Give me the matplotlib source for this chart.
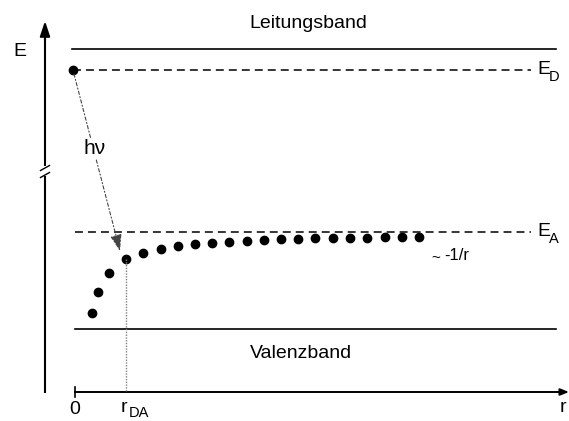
import matplotlib
matplotlib.use("Agg")
import matplotlib.pyplot as plt

plt.rcParams['font.family'] = ['Liberation Sans', 'DejaVu Sans']

# ---- data (drawing units: x = r direction, y = energy, downwards increasing) ----
r_dots = [92, 98, 109, 126, 143, 161, 178, 195, 212, 229, 247, 264, 281,
          298, 315, 333, 350, 367, 385, 402, 419]
E_dots = [313, 292, 273, 259, 253, 249, 246, 244, 243, 242, 241, 240, 239,
          239, 238, 238, 237.5, 237.5, 237, 237, 237]

r_zero = 75
r_DA = 126
r_end = 568
E_cond = 49
E_D = 70
E_A = 232
E_val = 329
donor_r = 73

fig = plt.figure(figsize=(5.69, 4.21), dpi=100)
ax = fig.add_axes([0, 0, 1, 1])
ax.set_xlim(0, 569)
ax.set_ylim(421, 0)
ax.axis('off')

# E axis with break
ax.plot([45, 45], [393, 176], color='black', lw=1.5, solid_capstyle='butt')
ax.plot([45, 45], [166, 30], color='black', lw=1.5, solid_capstyle='butt')
ax.annotate('', xy=(45, 21), xytext=(45, 40),
            arrowprops=dict(arrowstyle='-|>,head_length=0.9,head_width=0.3',
                            color='black', lw=1.5, shrinkA=0, shrinkB=0))
ax.plot([40.5, 49.5], [170.5, 165.5], color='black', lw=1.0)
ax.plot([40.5, 49.5], [177.5, 172.5], color='black', lw=1.0)
ax.text(20, 52, 'E', fontsize=14, ha='center', va='center')

# bands
ax.plot([72, 556], [E_cond, E_cond], color='black', lw=1.2)
ax.plot([75, 556], [E_val, E_val], color='black', lw=1.2)
ax.text(308, 23, 'Leitungsband', fontsize=14, ha='center', va='center')
ax.text(301, 353, 'Valenzband', fontsize=14, ha='center', va='center')

# donor / acceptor levels
ax.plot([donor_r, 531], [E_D, E_D], color='black', lw=1.1,
        linestyle=(0, (5.2, 3.3)))
ax.plot([75, 531], [E_A, E_A], color='black', lw=1.1,
        linestyle=(0, (5.2, 3.3)))
ax.text(537, 70, 'E', fontsize=14, ha='left', va='center')
ax.text(549, 77, 'D', fontsize=10.5, ha='left', va='center')
ax.text(537, 232, 'E', fontsize=14, ha='left', va='center')
ax.text(549, 239, 'A', fontsize=10.5, ha='left', va='center')

ax.plot([donor_r], [E_D], 'o', color='black', ms=6)

# h nu transition
ax.annotate('', xy=(120, 251), xytext=(donor_r + 1, E_D + 4),
            arrowprops=dict(arrowstyle='-|>,head_length=1.0,head_width=0.35',
                            color='#444444', lw=0.8,
                            linestyle=(0, (3, 2, 1, 2)),
                            shrinkA=0, shrinkB=0))
ax.text(95, 149, 'hν', fontsize=15, ha='center', va='center',
        bbox=dict(facecolor='white', edgecolor='none', pad=0.5))

# pair dots
ax.plot(r_dots, E_dots, 'o', color='black', ms=6, linestyle='none')
ax.text(436, 258, '~', fontsize=11, ha='center', va='center')
ax.text(444, 256, '-1/r', fontsize=12, ha='left', va='center')

# r axis
ax.plot([r_zero, r_end - 6], [392, 392], color='black', lw=1.4)
ax.annotate('', xy=(r_end + 1, 392), xytext=(r_end - 8, 392),
            arrowprops=dict(arrowstyle='-|>,head_length=0.5,head_width=0.2',
                            color='black', lw=1.4, shrinkA=0, shrinkB=0))
ax.plot([r_zero, r_zero], [387, 397], color='black', lw=1.2)
ax.plot([r_DA, r_DA], [259, 392], color='gray', lw=1.0, linestyle=(0, (1, 1)))
ax.text(r_zero, 410, '0', fontsize=14, ha='center', va='center')
ax.text(r_DA - 5, 407, 'r', fontsize=14, ha='left', va='center')
ax.text(r_DA + 3, 413, 'DA', fontsize=10.5, ha='left', va='center')
ax.text(563, 408, 'r', fontsize=14, ha='center', va='center')

fig.savefig('out.png', dpi=100)
